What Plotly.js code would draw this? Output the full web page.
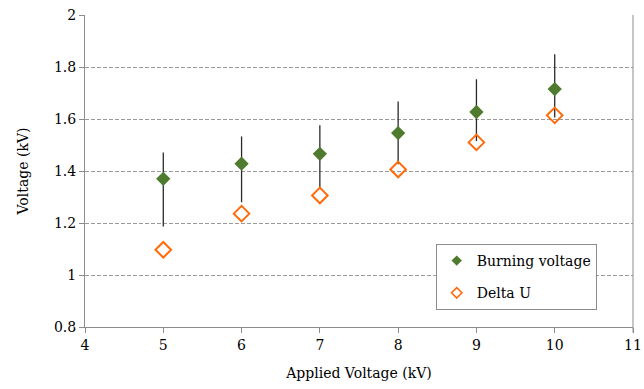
<!DOCTYPE html>
<html>
<head>
<meta charset="utf-8">
<script src="https://cdn.plot.ly/plotly-3.0.1.min.js"></script>
<style>
html,body{margin:0;padding:0;background:#fff;}
#chart{width:644px;height:389px;}
</style>
</head>
<body>
<div id="chart"></div>
<script>
const appliedVoltage = [5, 6, 7, 8, 9, 10];
const burningVoltage = [1.370, 1.428, 1.466, 1.546, 1.627, 1.715];
const burningErrPlus = [0.101, 0.105, 0.110, 0.121, 0.126, 0.134];
const burningErrMinus = [0.183, 0.148, 0.135, 0.120, 0.112, 0.109];
const deltaU = [1.097, 1.236, 1.306, 1.406, 1.510, 1.614];
const seriesNames = ['Burning voltage', 'Delta U'];

const font = 'DejaVu Serif';
const green = '#4f7b2f';
const orange = '#ff6a0a';

const traces = [
  {
    type: 'scatter', mode: 'markers', name: seriesNames[0], showlegend: false,
    x: appliedVoltage, y: burningVoltage,
    marker: {symbol: 'diamond', size: 11, color: green},
    error_y: {type: 'data', symmetric: false, array: burningErrPlus, arrayminus: burningErrMinus,
      color: '#2a2a2a', thickness: 1.3, width: 0}
  },
  {
    type: 'scatter', mode: 'markers', name: seriesNames[1], showlegend: false,
    x: appliedVoltage, y: deltaU,
    marker: {symbol: 'diamond-open', size: 12, color: orange, line: {width: 2, color: orange}}
  },
  {
    type: 'scatter', mode: 'markers', name: seriesNames[0], legendgroup: 'a',
    x: [null], y: [null],
    marker: {symbol: 'diamond', size: 8, color: green}
  },
  {
    type: 'scatter', mode: 'markers', name: seriesNames[1], legendgroup: 'b',
    x: [null], y: [null],
    marker: {symbol: 'diamond-open', size: 8, color: orange, line: {width: 1.6, color: orange}}
  }
];

const layout = {
  width: 644, height: 389,
  margin: {l: 85, r: 11, t: 15, b: 62},
  paper_bgcolor: '#fff', plot_bgcolor: '#fff',
  font: {family: font, size: 14, color: '#000'},
  showlegend: true,
  legend: {
    x: 0.64, y: 0.266, xanchor: 'left', yanchor: 'top',
    bgcolor: '#fff', bordercolor: '#8c8c8c', borderwidth: 1,
    font: {family: font, size: 14, color: '#000'},
    traceorder: 'grouped', tracegroupgap: 11,
    itemwidth: 30
  },
  xaxis: {
    range: [4, 11], dtick: 1, tick0: 4,
    showgrid: false, zeroline: false,
    showline: true, linecolor: '#8c8c8c', linewidth: 1,
    ticks: 'outside', ticklen: 5, tickcolor: '#8c8c8c',
    ticklabeloverflow: 'allow',
    tickfont: {family: font, size: 14, color: '#000'},
    title: {text: 'Applied Voltage (kV)', font: {family: font, size: 14, color: '#000'}, standoff: 16}
  },
  yaxis: {
    range: [0.8, 2], dtick: 0.2, tick0: 0.8,
    showgrid: true, gridcolor: '#9a9a9a', griddash: '4px,2px', gridwidth: 1,
    zeroline: false,
    showline: true, linecolor: '#8c8c8c', linewidth: 1,
    ticks: 'outside', ticklen: 5, tickcolor: '#8c8c8c',
    ticklabeloverflow: 'allow',
    tickfont: {family: font, size: 14, color: '#000'},
    title: {text: 'Voltage (kV)', font: {family: font, size: 14, color: '#000'}, standoff: 22}
  },
  shapes: [
    {type: 'line', xref: 'paper', yref: 'paper', x0: 1, x1: 1, y0: 0, y1: 1,
     line: {color: '#8c8c8c', width: 1}},
    {type: 'line', xref: 'paper', yref: 'paper', x0: 1, x1: 1, y0: 0, y1: -0.018,
     line: {color: '#8c8c8c', width: 1}}
  ]
};

Plotly.newPlot('chart', traces, layout, {staticPlot: true, displayModeBar: false});
</script>
</body>
</html>
